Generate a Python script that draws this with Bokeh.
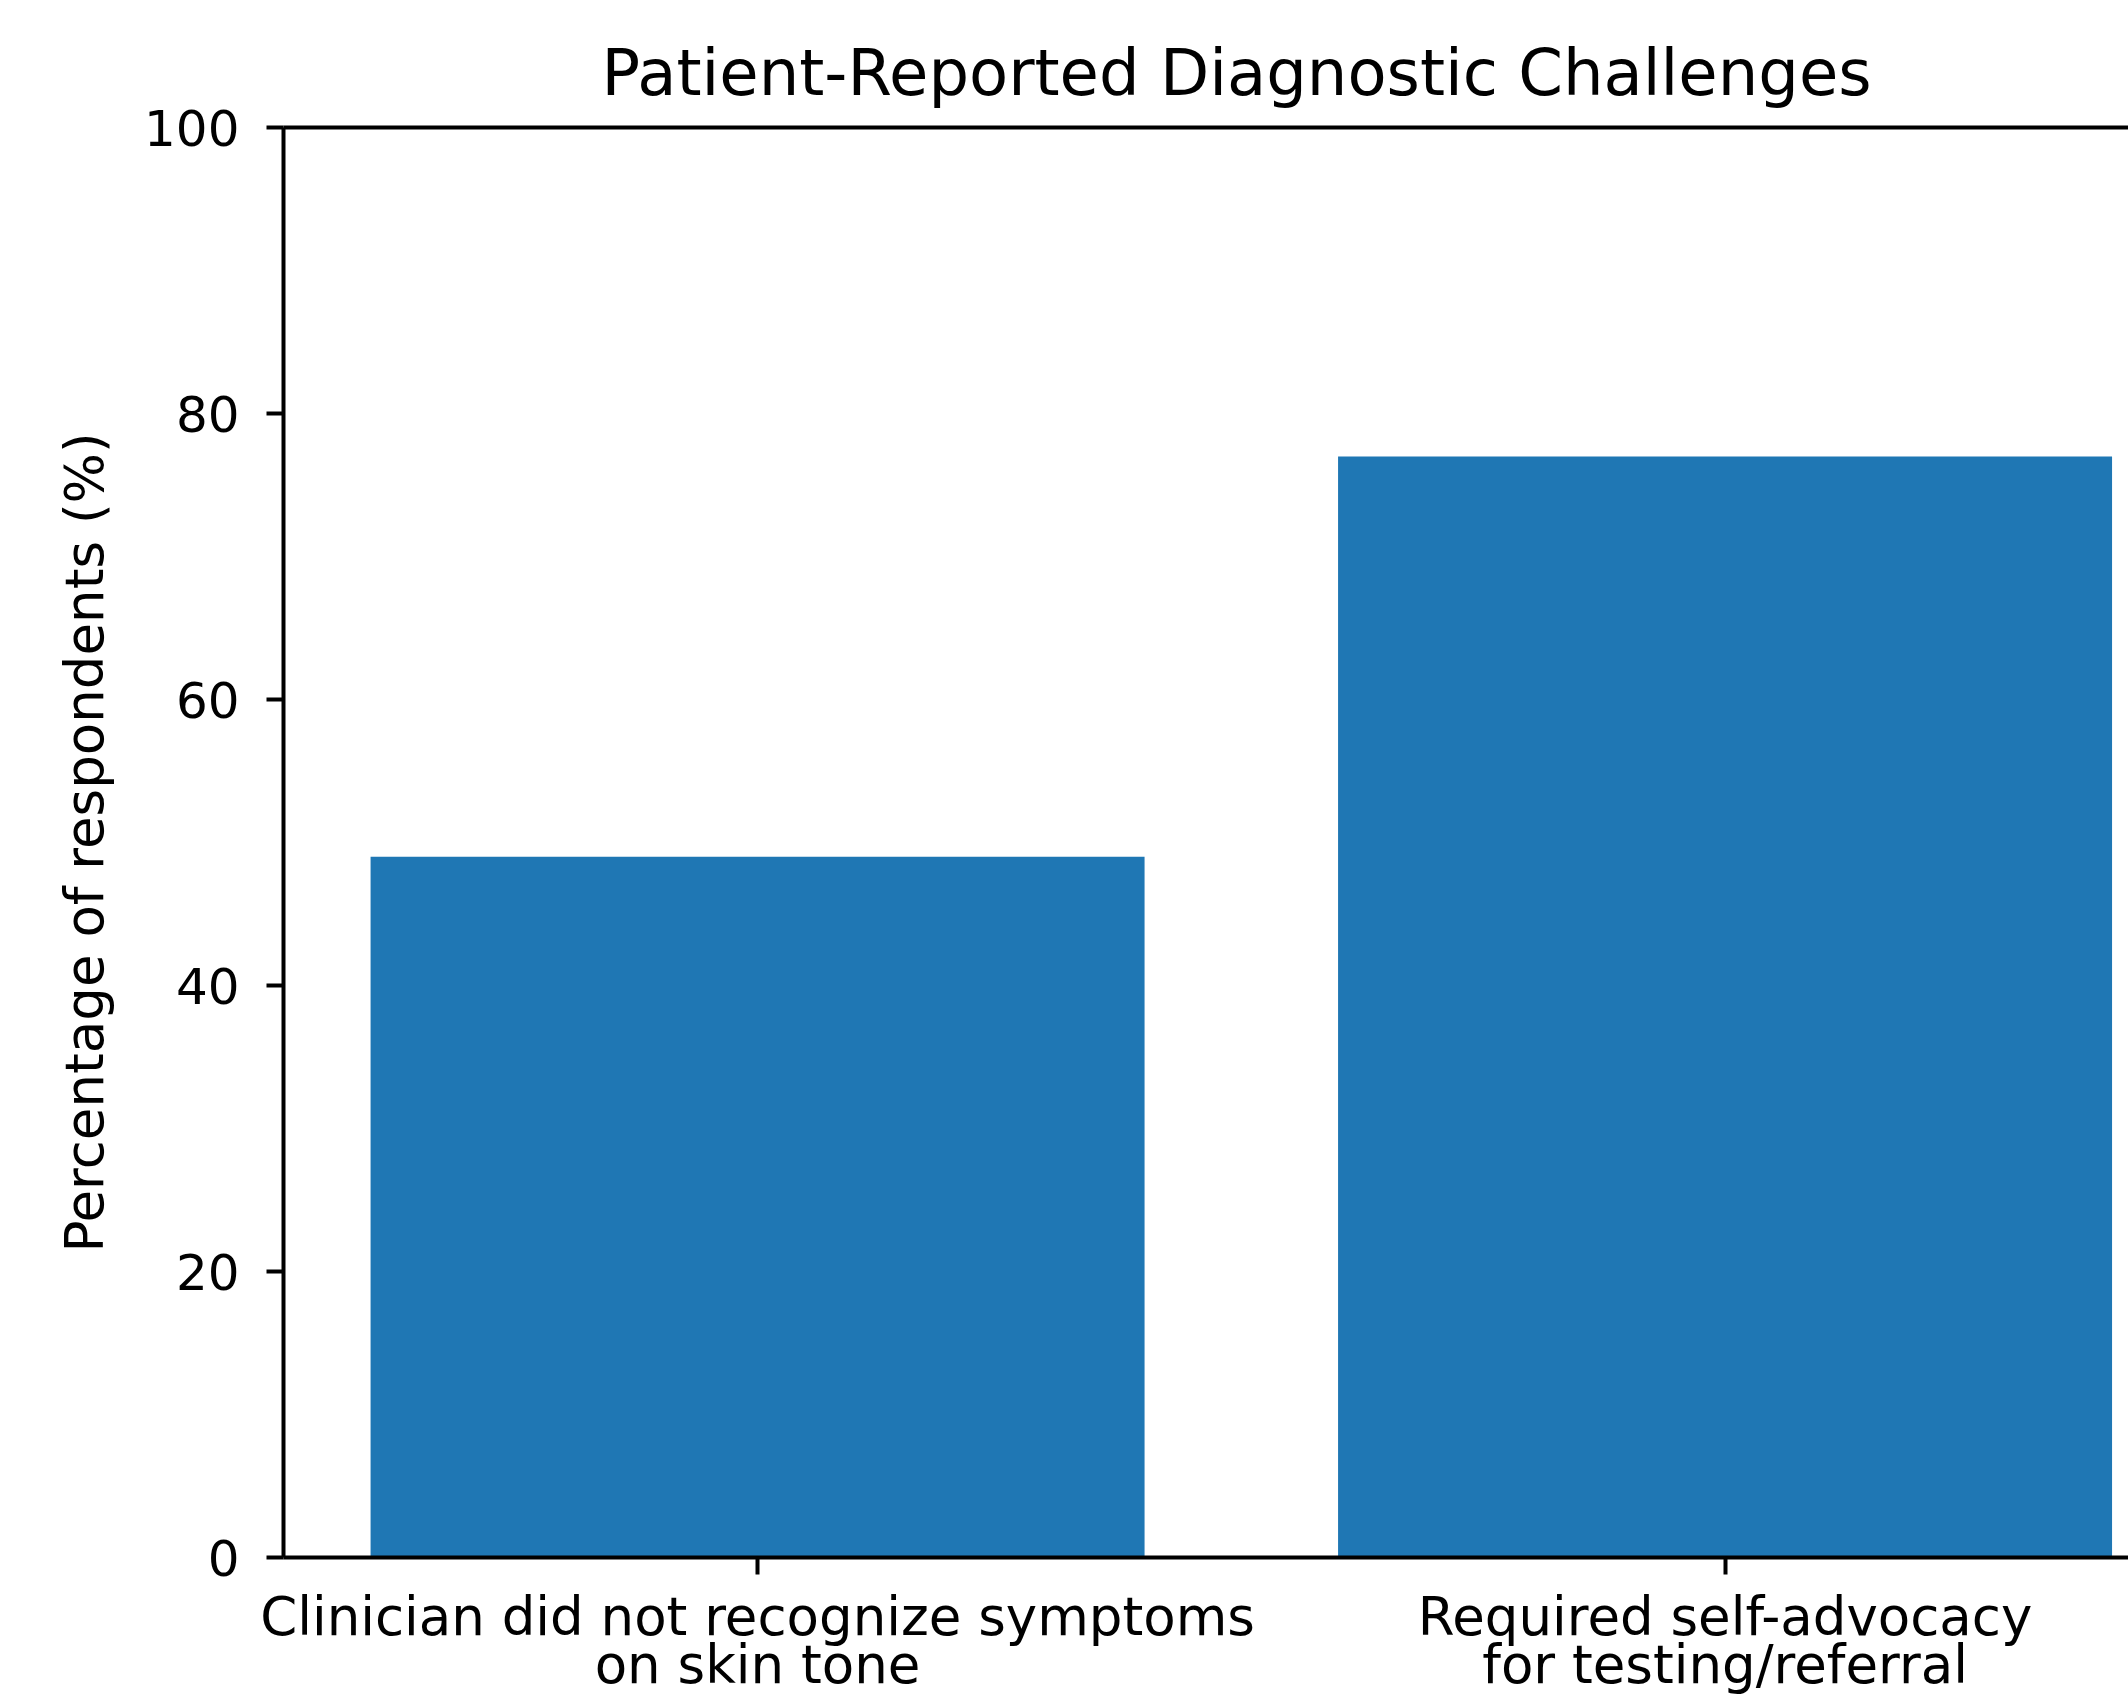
from bokeh.plotting import figure
from bokeh.models import Range1d, FixedTicker, LinearAxis
from bokeh.embed import file_html
from bokeh.resources import INLINE

# ---- data ----
categories = ["Clinician did not recognize symptoms\non skin tone",
              "Required self-advocacy\nfor testing/referral"]
values = [49, 77]
y_ticks = [0, 20, 40, 60, 80, 100]
title_text = "Patient-Reported Diagnostic Challenges"
y_label = "Percentage of respondents (%)"

xs = list(range(len(categories)))

FONT = "DejaVu Sans"
DIGIT_FS = "50px"
LABEL_FS = "53px"
TITLE_FS = "64px"
LW = 4

p = figure(width=2128, height=1698, output_backend="svg", toolbar_location=None,
           x_range=Range1d(-0.49, 1.417), y_range=Range1d(0, 100),
           min_border_left=283, min_border_right=0, min_border_top=127,
           min_border_bottom=140, background_fill_color="white",
           border_fill_color="white", outline_line_color=None)

p.vbar(x=xs, top=values, bottom=0, width=0.8, color="#1f77b4", line_color=None)

p.xgrid.visible = False
p.ygrid.visible = False

# title
p.title.text = title_text
p.title.text_font = FONT
p.title.text_font_size = TITLE_FS
p.title.text_font_style = "normal"
p.title.text_color = "black"
p.title.align = "left"
p.title.offset = 318
p.title.standoff = 36

# x axis
xa = p.xaxis[0]
xa.ticker = FixedTicker(ticks=xs)
xa.major_label_overrides = {i: c for i, c in zip(xs, categories)}
xa.minor_tick_line_color = None
xa.major_tick_out = 17
xa.major_tick_in = 0
xa.major_tick_line_width = LW
xa.axis_line_width = LW
xa.major_label_standoff = 11
xa.major_label_text_font = FONT
xa.major_label_text_font_size = LABEL_FS
xa.major_label_text_color = "black"
xa.major_label_text_line_height = 0.8

# y axis
ya = p.yaxis[0]
ya.ticker = FixedTicker(ticks=y_ticks)
ya.minor_tick_line_color = None
ya.major_tick_out = 17
ya.major_tick_in = 0
ya.major_tick_line_width = LW
ya.axis_line_width = LW
ya.major_label_standoff = 27
ya.major_label_text_font = FONT
ya.major_label_text_font_size = DIGIT_FS
ya.major_label_text_color = "black"
ya.axis_label = y_label
ya.axis_label_text_font = FONT
ya.axis_label_text_font_size = LABEL_FS
ya.axis_label_text_font_style = "normal"
ya.axis_label_text_color = "black"
ya.axis_label_standoff = 26

# top spine
top = LinearAxis(ticker=FixedTicker(ticks=[]), axis_line_width=LW,
                 major_tick_out=0, major_tick_in=0, minor_tick_out=0, minor_tick_in=0,
                 major_label_standoff=0)
p.add_layout(top, "above")

open("out.html", "w").write(file_html(p, INLINE))
